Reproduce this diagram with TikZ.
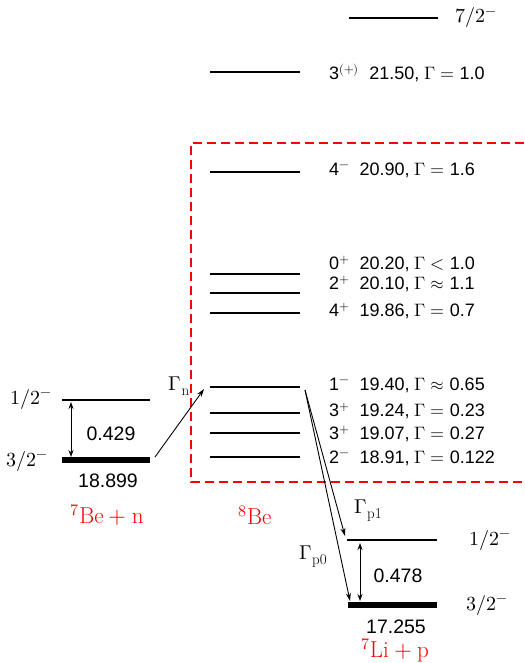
\documentclass[tikz,border=0pt]{standalone}
\usepackage{unicode-math}
\setmathfont{Latin Modern Math}
\newfontfamily\sansf{Liberation Sans}
\usetikzlibrary{arrows.meta}
\newcommand\gsub[1]{$\Gamma$\kern0.3pt\raisebox{-5pt}{\fontsize{15}{15}\selectfont #1}}
\begin{document}
\begin{tikzpicture}[x=1pt,y=-1pt,
  lvl/.style={line width=2.6pt},
  gnd/.style={line width=5.5pt},
  lab/.style={anchor=west, font=\sansf\fontsize{18}{18}\selectfont, inner sep=0pt},
  jp/.style={font=\fontsize{20}{20}\selectfont, inner sep=0pt},
  num/.style={font=\sansf\fontsize{19.5}{19.5}\selectfont, inner sep=0pt},
  nuc/.style={font=\fontsize{23}{23}\selectfont, text=red, inner sep=0pt},
  arr/.style={line width=0.9pt, -{Stealth[length=8pt,width=5pt]}},
  darr/.style={line width=0.9pt, {Stealth[length=7pt,width=5pt]}-{Stealth[length=7pt,width=5pt]}},
  box/.style={draw=red, line width=2.6pt, dash pattern=on 9pt off 5pt}]
\useasboundingbox (0,0) rectangle (524,663);
% red box
\draw[box] (524,143) -- (191,143) -- (191,482) -- (524,482);
% 8Be levels
\foreach \n/\xa/\xb/\y in {a/349/438/18, b/210/300/72, c/210/300/172, d/210/300/274, e/210/300/293, f/210/300/313, g/210/300/387, h/210/300/413, i/210/300/433, j/210/300/457}{
  \coordinate (\n L) at (\xa,\y);
  \coordinate (\n R) at (\xb,\y);
  \draw[lvl] (\n L) -- (\n R);
}
\node[jp, anchor=west] (la) at (455,18) {$7/2^-$};
\node[lab] (lb) at (329,73) {3$^{(+)}$\ \ 21.50, $\Gamma=$ 1.0};
\node[lab] (lc) at (329,170) {4$^{-}$\ \ 20.90, $\Gamma=$ 1.6};
\node[lab] (ld) at (329,264) {0$^{+}$\ \ 20.20, $\Gamma<$ 1.0};
\node[lab] (le) at (329,284) {2$^{+}$\ \ 20.10, $\Gamma\approx$ 1.1};
\node[lab] (lf) at (329,311) {4$^{+}$\ \ 19.86, $\Gamma=$ 0.7};
\node[lab] (lg) at (329,385) {1$^{-}$\ \ 19.40, $\Gamma\approx$ 0.65};
\node[lab] (lh) at (329,411) {3$^{+}$\ \ 19.24, $\Gamma=$ 0.23};
\node[lab] (li) at (329,434) {3$^{+}$\ \ 19.07, $\Gamma=$ 0.27};
\node[lab] (lj) at (329,458) {2$^{-}$\ \ 18.91, $\Gamma=$ 0.122};
% 7Be + n
\coordinate (beUL) at (62,400); \coordinate (beUR) at (150,400);
\coordinate (beGL) at (62,460); \coordinate (beGR) at (150,460);
\draw[lvl] (beUL) -- (beUR);
\draw[gnd] (beGL) -- (beGR);
\node[jp, anchor=east] (beUj) at (52,399) {$1/2^-$};
\node[jp, anchor=east] (beGj) at (48,461) {$3/2^-$};
\coordinate (beA1) at (71,402); \coordinate (beA2) at (71,457);
\draw[darr] (beA1) -- (beA2);
\node[num] (be429) at (111,434) {0.429};
\node[num] (be18) at (108,481) {18.899};
\node[nuc] (benuc) at (107,515) {$^{7}\mathrm{Be}+\mathrm{n}$};
\node[nuc] (be8) at (255,515) {$^{8}\mathrm{Be}$};
% Gamma n
\coordinate (gnS) at (155,457); \coordinate (gnE) at (204,389);
\draw[arr] (gnS) -- (gnE);
\node[jp] (gn) at (179,386) {\gsub{n}};
% 7Li + p
\coordinate (liUL) at (347,540); \coordinate (liUR) at (437,540);
\coordinate (liGL) at (348,605); \coordinate (liGR) at (437,605);
\draw[lvl] (liUL) -- (liUR);
\draw[gnd] (liGL) -- (liGR);
\node[jp, anchor=west] (liUj) at (469,540) {$1/2^-$};
\node[jp, anchor=west] (liGj) at (466,605) {$3/2^-$};
\coordinate (liA1) at (360,543); \coordinate (liA2) at (360,601);
\draw[darr] (liA1) -- (liA2);
\node[num] (li478) at (398,576) {0.478};
\node[num] (li17) at (396,627) {17.255};
\node[nuc] (linuc) at (395,650) {$^{7}\mathrm{Li}+\mathrm{p}$};
% Gamma p
\coordinate (gpS) at (305,390);
\coordinate (gp1E) at (345,536);
\coordinate (gp0E) at (350,601);
\draw[arr] (gpS) -- (gp1E);
\draw[arr] (gpS) -- (gp0E);
\node[jp] (gp1) at (368,511) {\gsub{p1}};
\node[jp] (gp0) at (313,557) {\gsub{p0}};
\end{tikzpicture}
\end{document}
